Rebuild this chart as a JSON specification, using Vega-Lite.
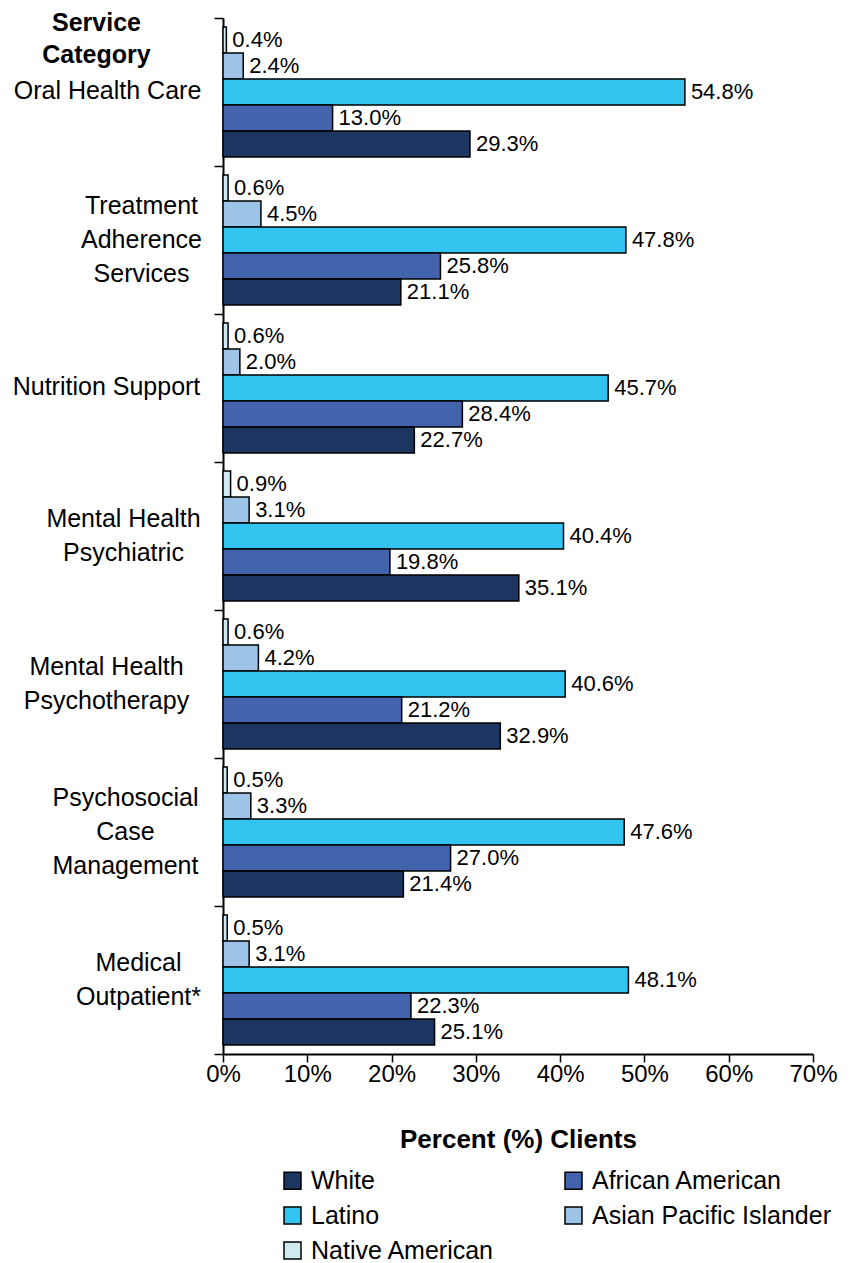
{
  "$schema": "https://vega.github.io/schema/vega-lite/v6.json",
  "width": 590,
  "height": 1036,
  "autosize": {"type": "none"},
  "padding": {"left": 223, "top": 18, "right": 41, "bottom": 209},
  "background": "white",
  "config": {"view": {"stroke": null}, "font": "Liberation Sans"},
  "data": {
    "values": [
      {"category": "Oral Health Care", "group": "Native American", "share": 0.004},
      {"category": "Oral Health Care", "group": "Asian Pacific Islander", "share": 0.024},
      {"category": "Oral Health Care", "group": "Latino", "share": 0.548},
      {"category": "Oral Health Care", "group": "African American", "share": 0.130},
      {"category": "Oral Health Care", "group": "White", "share": 0.293},
      {"category": "Treatment Adherence Services", "group": "Native American", "share": 0.006},
      {"category": "Treatment Adherence Services", "group": "Asian Pacific Islander", "share": 0.045},
      {"category": "Treatment Adherence Services", "group": "Latino", "share": 0.478},
      {"category": "Treatment Adherence Services", "group": "African American", "share": 0.258},
      {"category": "Treatment Adherence Services", "group": "White", "share": 0.211},
      {"category": "Nutrition Support", "group": "Native American", "share": 0.006},
      {"category": "Nutrition Support", "group": "Asian Pacific Islander", "share": 0.020},
      {"category": "Nutrition Support", "group": "Latino", "share": 0.457},
      {"category": "Nutrition Support", "group": "African American", "share": 0.284},
      {"category": "Nutrition Support", "group": "White", "share": 0.227},
      {"category": "Mental Health Psychiatric", "group": "Native American", "share": 0.009},
      {"category": "Mental Health Psychiatric", "group": "Asian Pacific Islander", "share": 0.031},
      {"category": "Mental Health Psychiatric", "group": "Latino", "share": 0.404},
      {"category": "Mental Health Psychiatric", "group": "African American", "share": 0.198},
      {"category": "Mental Health Psychiatric", "group": "White", "share": 0.351},
      {"category": "Mental Health Psychotherapy", "group": "Native American", "share": 0.006},
      {"category": "Mental Health Psychotherapy", "group": "Asian Pacific Islander", "share": 0.042},
      {"category": "Mental Health Psychotherapy", "group": "Latino", "share": 0.406},
      {"category": "Mental Health Psychotherapy", "group": "African American", "share": 0.212},
      {"category": "Mental Health Psychotherapy", "group": "White", "share": 0.329},
      {"category": "Psychosocial Case Management", "group": "Native American", "share": 0.005},
      {"category": "Psychosocial Case Management", "group": "Asian Pacific Islander", "share": 0.033},
      {"category": "Psychosocial Case Management", "group": "Latino", "share": 0.476},
      {"category": "Psychosocial Case Management", "group": "African American", "share": 0.270},
      {"category": "Psychosocial Case Management", "group": "White", "share": 0.214},
      {"category": "Medical Outpatient*", "group": "Native American", "share": 0.005},
      {"category": "Medical Outpatient*", "group": "Asian Pacific Islander", "share": 0.031},
      {"category": "Medical Outpatient*", "group": "Latino", "share": 0.481},
      {"category": "Medical Outpatient*", "group": "African American", "share": 0.223},
      {"category": "Medical Outpatient*", "group": "White", "share": 0.251}
    ]
  },
  "encoding": {
    "y": {
      "field": "category",
      "type": "nominal",
      "sort": ["Oral Health Care", "Treatment Adherence Services", "Nutrition Support", "Mental Health Psychiatric", "Mental Health Psychotherapy", "Psychosocial Case Management", "Medical Outpatient*"],
      "scale": {"paddingInner": 0, "paddingOuter": 0},
      "axis": {
        "title": ["Service", "Category"],
        "titleAngle": 0,
        "titleFontSize": 25,
        "titleFontWeight": "bold",
        "titleColor": "black",
        "titleX": -127,
        "titleY": 12,
        "titleAlign": "center",
        "titleBaseline": "alphabetic",
        "titleLineHeight": 32,
        "bandPosition": 1,
        "tickExtra": true,
        "labelAlign": "center",
        "labelBaseline": "middle",
        "labelFontSize": 25,
        "labelLineHeight": 34,
        "labelColor": "black",
        "labelPadding": {
          "condition": [
            {"test": "datum.value == 'Treatment Adherence Services'", "value": 73},
            {"test": "datum.value == 'Mental Health Psychiatric'", "value": 91},
            {"test": "datum.value == 'Psychosocial Case Management'", "value": 89},
            {"test": "datum.value == 'Medical Outpatient*'", "value": 76},
            {"test": "datum.value == 'Nutrition Support' || datum.value == 'Mental Health Psychotherapy'", "value": 108}
          ],
          "value": 107
        },
        "labelOffset": {
          "condition": [
            {"test": "datum.value == 'Treatment Adherence Services' || datum.value == 'Psychosocial Case Management'", "value": -34},
            {"test": "datum.value == 'Mental Health Psychiatric' || datum.value == 'Mental Health Psychotherapy' || datum.value == 'Medical Outpatient*'", "value": -17}
          ],
          "value": -1
        },
        "labelLimit": 400,
        "labelExpr": "datum.value == 'Treatment Adherence Services' ? ['Treatment', 'Adherence', 'Services'] : datum.value == 'Mental Health Psychiatric' ? ['Mental Health', 'Psychiatric'] : datum.value == 'Mental Health Psychotherapy' ? ['Mental Health', 'Psychotherapy'] : datum.value == 'Psychosocial Case Management' ? ['Psychosocial', 'Case', 'Management'] : datum.value == 'Medical Outpatient*' ? ['Medical', 'Outpatient*'] : datum.value",
        "tickSize": 9,
        "tickColor": "black",
        "tickWidth": 1.5,
        "domainColor": "black",
        "domainWidth": 2,
        "grid": false
      }
    },
    "yOffset": {
      "field": "group",
      "type": "nominal",
      "sort": ["Native American", "Asian Pacific Islander", "Latino", "African American", "White"],
      "scale": {"paddingInner": 0, "paddingOuter": 0.35}
    },
    "x": {
      "field": "share",
      "type": "quantitative",
      "scale": {"domain": [0, 0.7]},
      "axis": {
        "values": [0, 0.1, 0.2, 0.3, 0.4, 0.5, 0.6, 0.7],
        "format": ".0%",
        "grid": false,
        "labelFlush": false,
        "labelFontSize": 24,
        "labelColor": "black",
        "labelPadding": 0,
        "tickSize": 8,
        "tickColor": "black",
        "tickWidth": 1.5,
        "domainColor": "black",
        "domainWidth": 2,
        "title": "Percent (%) Clients",
        "titleFontSize": 26,
        "titleFontWeight": "bold",
        "titleColor": "black",
        "titlePadding": 40
      }
    }
  },
  "layer": [
    {
      "mark": {"type": "bar", "stroke": "black", "strokeWidth": 1.5},
      "encoding": {
        "color": {
          "field": "group",
          "type": "nominal",
          "scale": {
            "domain": ["White", "Latino", "Native American", "African American", "Asian Pacific Islander"],
            "range": ["#1d3561", "#33c3ef", "#cfeaf1", "#4363ad", "#9dc3e6"]
          },
          "legend": {
            "orient": "none",
            "legendX": 57,
            "legendY": 1150,
            "columns": 2,
            "title": null,
            "symbolType": "square",
            "symbolSize": 289,
            "symbolStrokeColor": "black",
            "symbolStrokeWidth": 1.5,
            "symbolOpacity": 1,
            "labelFontSize": 25,
            "labelColor": "black",
            "labelOffset": 6,
            "labelLimit": 400,
            "columnPadding": 66,
            "rowPadding": 9
          }
        }
      }
    },
    {
      "mark": {"type": "text", "align": "left", "baseline": "middle", "dx": 6, "fontSize": 22, "color": "black"},
      "encoding": {"text": {"field": "share", "type": "quantitative", "format": ".1%"}}
    }
  ]
}
